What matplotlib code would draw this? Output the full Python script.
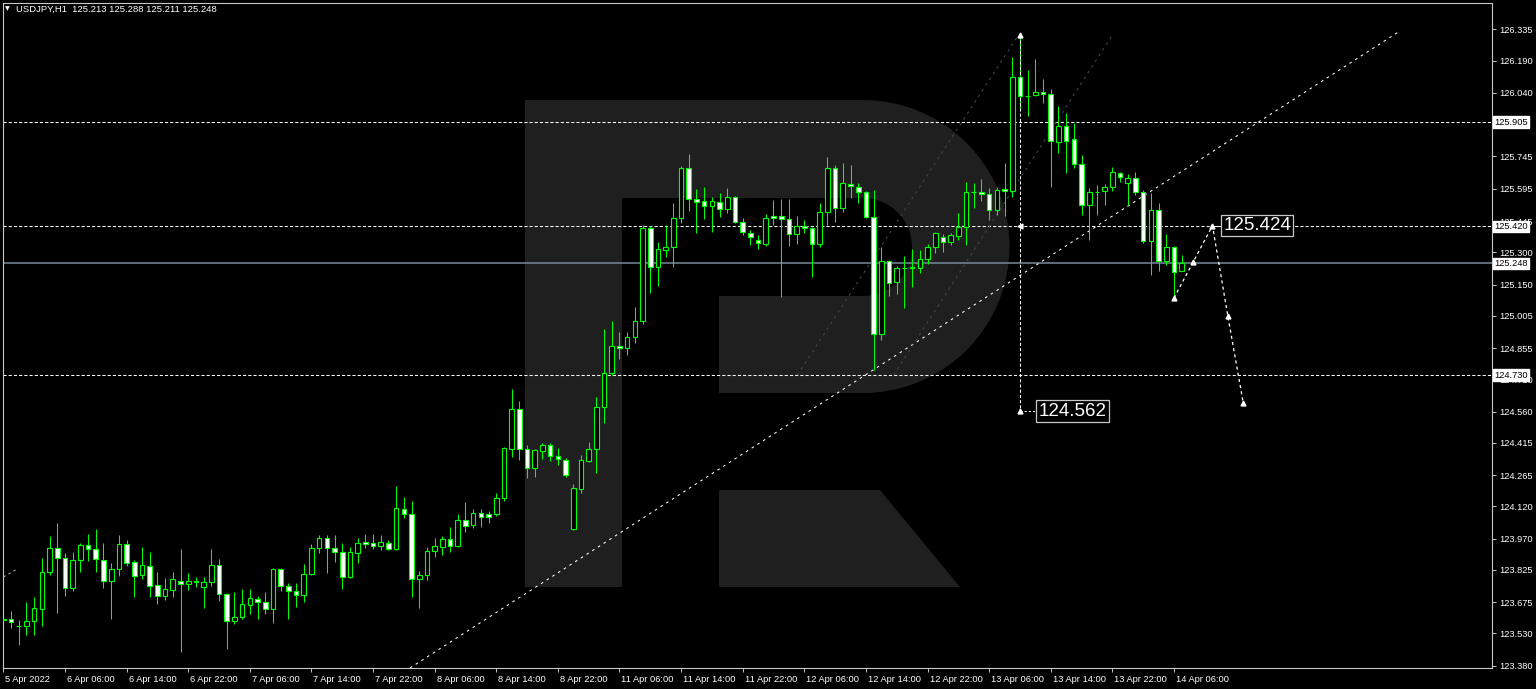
import numpy as np
import matplotlib.pyplot as plt
from matplotlib.patches import Rectangle, Wedge, Polygon
from matplotlib.transforms import Affine2D, ScaledTranslation

# USDJPY H1 candles, 5 Apr 22:00 .. 14 Apr 07:00
opens = [123.592, 123.597, 123.566, 123.564, 123.588, 123.643, 123.815, 123.927, 123.880, 123.741,
         123.871, 123.941, 123.922, 123.871, 123.773, 123.829, 123.945, 123.862, 123.801, 123.843,
         123.755, 123.704, 123.732, 123.773, 123.760, 123.769, 123.746, 123.769, 123.848, 123.713,
         123.588, 123.606, 123.662, 123.690, 123.676, 123.643, 123.829, 123.750, 123.727, 123.708,
         123.806, 123.927, 123.973, 123.927, 123.908, 123.792, 123.903, 123.955, 123.950, 123.936,
         123.950, 123.922, 124.108, 124.085, 123.783, 123.801, 123.913, 123.931, 123.969, 123.936,
         124.057, 124.034, 124.089, 124.085, 124.085, 124.159, 124.386, 124.572, 124.386, 124.298,
         124.377, 124.405, 124.354, 124.336, 124.015, 124.201, 124.331, 124.386, 124.581, 124.739,
         124.865, 124.855, 124.907, 124.981, 125.413, 125.232, 125.311, 125.325, 125.459, 125.691,
         125.547, 125.538, 125.515, 125.533, 125.501, 125.557, 125.441, 125.389, 125.357, 125.338,
         125.468, 125.468, 125.454, 125.385, 125.422, 125.413, 125.338, 125.487, 125.691, 125.506,
         125.617, 125.603, 125.580, 125.464, 124.920, 125.260, 125.162, 125.227, 125.227, 125.227,
         125.269, 125.325, 125.371, 125.348, 125.376, 125.417, 125.580, 125.580, 125.571, 125.496,
         125.594, 125.585, 126.114, 126.026, 126.030, 126.044, 126.035, 125.812, 125.886, 125.826,
         125.710, 125.520, 125.580, 125.585, 125.603, 125.668, 125.622, 125.645, 125.580, 125.352,
         125.496, 125.260, 125.325, 125.213]
highs = [123.639, 123.634, 123.592, 123.676, 123.699, 123.880, 123.982, 124.043, 123.903, 123.908,
         123.950, 123.992, 124.015, 123.950, 123.857, 123.987, 123.964, 123.871, 123.931, 123.908,
         123.815, 123.787, 123.815, 123.922, 123.811, 123.792, 123.792, 123.922, 123.876, 123.718,
         123.722, 123.736, 123.736, 123.704, 123.722, 123.834, 123.832, 123.764, 123.764, 123.852,
         123.945, 123.987, 123.987, 123.987, 123.950, 123.931, 123.973, 123.992, 123.992, 123.987,
         123.964, 124.215, 124.164, 124.145, 123.820, 123.931, 123.973, 123.982, 124.024, 124.085,
         124.140, 124.108, 124.108, 124.099, 124.182, 124.396, 124.665, 124.609, 124.405, 124.386,
         124.414, 124.414, 124.391, 124.345, 124.224, 124.359, 124.419, 124.628, 124.944, 124.981,
         124.930, 124.930, 125.046, 125.427, 125.422, 125.348, 125.427, 125.529, 125.701, 125.757,
         125.594, 125.603, 125.557, 125.575, 125.598, 125.561, 125.459, 125.403, 125.380, 125.478,
         125.543, 125.547, 125.547, 125.468, 125.450, 125.417, 125.529, 125.742, 125.705, 125.715,
         125.705, 125.622, 125.585, 125.589, 125.325, 125.264, 125.236, 125.283, 125.315, 125.311,
         125.338, 125.394, 125.385, 125.389, 125.482, 125.626, 125.622, 125.640, 125.598, 125.603,
         125.715, 126.207, 126.309, 126.146, 126.198, 126.105, 126.058, 125.979, 125.947, 125.900,
         125.752, 125.598, 125.612, 125.617, 125.696, 125.673, 125.663, 125.673, 125.589, 125.575,
         125.529, 125.385, 125.329, 125.288]
lows = [123.555, 123.555, 123.476, 123.523, 123.523, 123.564, 123.801, 123.625, 123.704, 123.727,
        123.815, 123.866, 123.815, 123.741, 123.597, 123.797, 123.843, 123.699, 123.783, 123.699,
        123.667, 123.685, 123.699, 123.444, 123.732, 123.746, 123.648, 123.750, 123.681, 123.458,
        123.574, 123.597, 123.620, 123.597, 123.620, 123.578, 123.727, 123.597, 123.653, 123.676,
        123.801, 123.903, 123.811, 123.862, 123.736, 123.787, 123.857, 123.927, 123.922, 123.918,
        123.918, 123.918, 124.066, 123.699, 123.648, 123.778, 123.885, 123.894, 123.908, 123.932,
        124.001, 124.020, 124.024, 124.043, 124.076, 124.145, 124.349, 124.336, 124.252, 124.256,
        124.340, 124.331, 124.312, 124.256, 124.011, 124.182, 124.326, 124.275, 124.507, 124.730,
        124.804, 124.823, 124.879, 124.967, 125.111, 125.143, 125.278, 125.232, 125.436, 125.491,
        125.389, 125.454, 125.394, 125.464, 125.482, 125.436, 125.380, 125.334, 125.315, 125.329,
        125.427, 125.092, 125.329, 125.338, 125.389, 125.185, 125.325, 125.427, 125.441, 125.487,
        125.552, 125.529, 125.459, 124.753, 124.893, 125.097, 125.106, 125.041, 125.139, 125.204,
        125.246, 125.297, 125.301, 125.334, 125.357, 125.334, 125.506, 125.538, 125.450, 125.473,
        125.468, 125.557, 125.970, 125.933, 126.026, 125.993, 125.603, 125.761, 125.668, 125.691,
        125.473, 125.357, 125.473, 125.520, 125.585, 125.626, 125.520, 125.566, 125.343, 125.195,
        125.213, 125.241, 125.092, 125.211]
closes = [123.597, 123.583, 123.564, 123.588, 123.648, 123.815, 123.927, 123.880, 123.741, 123.871,
          123.941, 123.922, 123.876, 123.773, 123.829, 123.945, 123.857, 123.797, 123.848, 123.750,
          123.704, 123.736, 123.783, 123.760, 123.773, 123.771, 123.769, 123.848, 123.713, 123.588,
          123.606, 123.667, 123.695, 123.676, 123.643, 123.829, 123.750, 123.727, 123.708, 123.806,
          123.927, 123.973, 123.927, 123.908, 123.792, 123.908, 123.950, 123.945, 123.936, 123.955,
          123.922, 124.112, 124.085, 123.783, 123.801, 123.913, 123.936, 123.969, 123.936, 124.057,
          124.029, 124.089, 124.071, 124.071, 124.159, 124.391, 124.572, 124.386, 124.298, 124.382,
          124.405, 124.354, 124.340, 124.266, 124.205, 124.336, 124.386, 124.581, 124.739, 124.865,
          124.855, 124.907, 124.981, 125.413, 125.232, 125.315, 125.325, 125.459, 125.691, 125.547,
          125.533, 125.515, 125.538, 125.501, 125.557, 125.441, 125.394, 125.371, 125.343, 125.459,
          125.459, 125.454, 125.385, 125.422, 125.413, 125.338, 125.487, 125.691, 125.506, 125.622,
          125.608, 125.580, 125.464, 124.920, 125.260, 125.157, 125.227, 125.229, 125.232, 125.269,
          125.325, 125.389, 125.348, 125.380, 125.417, 125.580, 125.582, 125.571, 125.496, 125.589,
          125.585, 126.114, 126.026, 126.024, 126.044, 126.035, 125.817, 125.886, 125.817, 125.710,
          125.520, 125.580, 125.578, 125.603, 125.673, 125.650, 125.645, 125.580, 125.352, 125.496,
          125.260, 125.325, 125.208, 125.248]

time_labels = ['5 Apr 2022', '6 Apr 06:00', '6 Apr 14:00', '6 Apr 22:00', '7 Apr 06:00',
               '7 Apr 14:00', '7 Apr 22:00', '8 Apr 06:00', '8 Apr 14:00', '8 Apr 22:00',
               '11 Apr 06:00', '11 Apr 14:00', '11 Apr 22:00', '12 Apr 06:00', '12 Apr 14:00',
               '12 Apr 22:00', '13 Apr 06:00', '13 Apr 14:00', '13 Apr 22:00', '14 Apr 06:00']
# 125.890 sits fully under the 125.905 box, so it is left out
price_ticks = [126.335, 126.190, 126.040, 125.745, 125.595, 125.445, 125.300, 125.150,
               125.005, 124.855, 124.710, 124.560, 124.415, 124.265, 124.120, 123.970, 123.825,
               123.675, 123.530, 123.380]

levels = [125.905, 125.420, 124.730]
bid = 125.248

# analysis drawings (bar index, price)
trend_x = [52.8, 181.0]
trend_y = [123.369, 126.320]
chan1_x = [103.1, 131.8]
chan1_y = [124.730, 126.309]
chan2_x = [115.6, 144.0]
chan2_y = [124.730, 126.309]
old_x = [0.0, 1.8]
old_y = [123.792, 123.829]
vert_x = 132
vert_top = 126.309
vert_target = 124.562
path_x = [152, 154.5, 157, 159, 161]
path_y = [125.088, 125.255, 125.424, 125.004, 124.600]
peak_label = 125.424

GREEN = '#00ff00'
FONT = ['Liberation Sans', 'DejaVu Sans']
plt.rcParams['font.family'] = FONT

fig = plt.figure(figsize=(15.36, 6.89), dpi=100, facecolor='black')
ax = fig.add_axes([3 / 1536, 21 / 689, 1489 / 1536, 665 / 689])
ax.set_facecolor('black')
ax.set_xlim(-0.05, 193.3)
ax.set_ylim(123.369, 126.458)

# broker logo watermark, drawn in screen pixels
pix = Affine2D().scale(1 / 1536, -1 / 689).translate(0, 1) + fig.transFigure
logo = '#1f1f1f'
for p in [Rectangle((525, 100), 97, 487), Rectangle((525, 100), 338, 293),
          Wedge((863, 246.5), 146.5, -90, 90),
          Polygon([(719, 490), (880, 490), (960, 587), (719, 587)])]:
    p.set_facecolor(logo)
    p.set_edgecolor('none')
    p.set_transform(pix)
    p.set_zorder(0.1)
    ax.add_patch(p)
for p in [Rectangle((622, 198), 241, 98), Wedge((863, 247), 49, -90, 90),
          Rectangle((622, 296), 97, 97)]:
    p.set_facecolor('black')
    p.set_edgecolor('none')
    p.set_transform(pix)
    p.set_zorder(0.2)
    ax.add_patch(p)

# level lines
for lv in levels:
    ax.axhline(lv, color='white', lw=0.75, ls=(0, (3, 2)), zorder=1)
ax.axhline(bid, color='#778899', lw=1.1, zorder=1)

ax.plot(trend_x, trend_y, color='white', lw=0.75, ls=(0, (2.5, 4)), zorder=1.2)
ax.plot(chan1_x, chan1_y, color='#3e4a56', lw=0.75, ls=(0, (2.5, 4)), zorder=1.2)
ax.plot(chan2_x, chan2_y, color='#3e4a56', lw=0.75, ls=(0, (2.5, 4)), zorder=1.2)
ax.plot(old_x, old_y, color='#aaaaaa', lw=0.75, ls=(0, (2.5, 3)), zorder=1.2)

# candles
o = np.array(opens)
h = np.array(highs)
l = np.array(lows)
c = np.array(closes)
idx = np.arange(len(o))
ax.vlines(idx, l, h, color=GREEN, lw=0.75, zorder=2)
fill = np.where(c >= o, 'black', 'white')
ax.bar(idx, np.abs(c - o), bottom=np.minimum(o, c), width=0.6, color=fill,
       edgecolor=GREEN, linewidth=0.8, zorder=3)

# forecast drawings
ax.plot([vert_x, vert_x], [vert_top, vert_target], color='white', lw=0.75,
        ls=(0, (3, 2)), zorder=4)
ax.plot([vert_x, vert_x + 2.3], [vert_target, vert_target], color='white', lw=0.75,
        ls=(0, (2, 2)), zorder=4)
ax.plot([vert_x], [vert_top], marker='^', ms=3.5, color='white', zorder=4)
ax.plot([vert_x], [vert_target], marker='^', ms=3.5, color='white', zorder=4)
ax.plot([vert_x], [levels[1]], marker='<', ms=3.5, color='white', zorder=4)
ax.plot(path_x, path_y, color='white', lw=0.9, ls=(0, (2.5, 2.5)), zorder=4)
ax.plot(path_x, path_y, ls='none', marker='^', ms=3.5, color='white', zorder=4)
ax.plot([path_x[2], path_x[2] + 1.3], [peak_label, peak_label], color='white', lw=0.75, zorder=4)

box = dict(boxstyle='square,pad=0.12', facecolor='black', edgecolor='#c8c8c8', lw=0.9)
ax.text(path_x[2] + 1.4, peak_label, '125.424', color='white', fontsize=13.5,
        ha='left', va='center', bbox=box, zorder=5)
ax.text(vert_x + 2.4, vert_target, '124.562', color='white', fontsize=13.5,
        ha='left', va='center', bbox=box, zorder=5)

# axes styling
for s in ax.spines.values():
    s.set_color('#c8c8c8')
    s.set_linewidth(0.8)
ax.yaxis.tick_right()
ax.set_yticks(price_ticks)
ax.set_yticklabels([f'{v:.3f}' for v in price_ticks])
ax.set_xticks(range(0, 153, 8))
ax.set_xticklabels(time_labels, ha='left')
ax.tick_params(colors='#c8c8c8', labelcolor='white', labelsize=6.7, length=3, width=0.7, pad=2)
off = ScaledTranslation(2 / 100, 0, fig.dpi_scale_trans)
for lab in ax.get_xticklabels():
    lab.set_transform(lab.get_transform() + off)

ytr = ax.get_yaxis_transform()
for lv in levels + [bid]:
    ax.text(1.0013, lv, f'{lv:.3f}', transform=ytr, color='black', fontsize=6.7,
            ha='left', va='center', clip_on=False, zorder=6,
            bbox=dict(boxstyle='square,pad=0.15', facecolor='white', edgecolor='white'))

fig.text(5 / 1536, 1 - 9 / 689, '\u25bc', color='white', fontsize=4.5, va='center',
         family='DejaVu Sans')
fig.text(16 / 1536, 1 - 9 / 689, 'USDJPY,H1  125.213 125.288 125.211 125.248', color='white',
         fontsize=6.8, va='center')

fig.savefig('out.png', dpi=100, facecolor='black')
